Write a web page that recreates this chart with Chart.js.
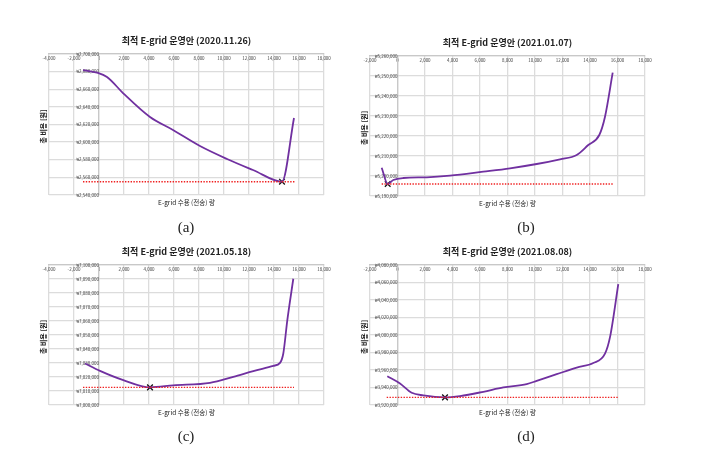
<!DOCTYPE html>
<html>
<head>
<meta charset="utf-8">
<script src="https://cdn.jsdelivr.net/npm/chart.js@4/dist/chart.umd.min.js"></script>
<style>
  body { margin: 0; background: #fff; width: 706px; height: 454px; position: relative; overflow: hidden; }
  canvas { position: absolute; }
  .cap { position: absolute; width: 40px; margin-left: -20px; text-align: center;
         font-family: "Liberation Serif", "DejaVu Serif", serif; font-size: 15px; color: #222; }
</style>
</head>
<body>
<canvas id="ca" width="353" height="227" style="left:0;top:0"></canvas>
<canvas id="cb" width="353" height="227" style="left:353px;top:0"></canvas>
<canvas id="cc" width="353" height="227" style="left:0;top:227px"></canvas>
<canvas id="cd" width="353" height="227" style="left:353px;top:227px"></canvas>
<div class="cap" style="left:186px;top:219px">(a)</div>
<div class="cap" style="left:526px;top:219px">(b)</div>
<div class="cap" style="left:186px;top:428px">(c)</div>
<div class="cap" style="left:526px;top:428px">(d)</div>
<script>
// 공통 라벨
const xTitle = "E-grid 수용 (전송) 량";
const yTitle = "총 비용 [원]";

// (a) 2020.11.26
const titleA = "최적 E-grid 운영안 (2020.11.26)";
const xA = [-1280, -160, 640, 1920, 4080, 5920, 8080, 10240, 12320, 14640, 15600];
const yA = [2681800, 2678800, 2673900, 2655700, 2628500, 2613800, 2595600, 2580900, 2568400, 2555100, 2627400];
const optA = [14640, 2555100];
const redA = [-1280, 15680];

// (b) 2021.01.07
const titleB = "최적 E-grid 운영안 (2021.01.07)";
const xB = [-1150, -713, -305, 422, 2124, 3818, 6240, 8182, 10124, 11818, 13033, 13876, 14676, 15091, 15651];
const yB = [5204150, 5196000, 5198000, 5199000, 5199350, 5200150, 5202150, 5203850, 5206000, 5208350, 5210500, 5215500, 5220500, 5229650, 5251650];
const optB = [-713, 5196000];
const redB = [-1150, 15651];

// (c) 2021.05.18
const titleC = "최적 E-grid 운영안 (2021.05.18)";
const xC = [-1120, 80, 1944, 4080, 5944, 8880, 10744, 12344, 13944, 14480, 14744, 15064, 15544];
const yC = [7029680, 7024410, 7017790, 7012600, 7014020, 7015870, 7020140, 7024200, 7027970, 7030110, 7036800, 7060500, 7090180];
const optC = [4080, 7012600];
const redC = [-1280, 15600];

// (d) 2021.08.08
const titleD = "최적 E-grid 운영안 (2021.08.08)";
const xD = [-742, 182, 1033, 1876, 3455, 4545, 6240, 7695, 9396, 10124, 11578, 13033, 14240, 15091, 15455, 16058];
const yD = [3952900, 3944600, 3933960, 3931000, 3928740, 3930210, 3935100, 3940090, 3943830, 3947570, 3955180, 3962780, 3968000, 3978670, 3997500, 4058100];
const optD = [3455, 3928740];
const redD = [-785, 16058];

const textPlugin = {
  id: 'texts',
  afterDraw(chart, args, opts) {
    const { ctx, chartArea: a } = chart;
    const cx = (a.left + a.right) / 2;
    ctx.save();
    ctx.fillStyle = '#222';
    ctx.textAlign = 'center';
    ctx.textBaseline = 'middle';
    ctx.font = 'bold 9px "Noto Sans CJK KR"';
    ctx.fillText(opts.title, cx, a.top - 13);
    ctx.font = '6.5px "Noto Sans CJK KR"';
    ctx.fillText(xTitle, cx, a.bottom + 8);
    ctx.translate(a.left - 6, (a.top + a.bottom) / 2 + 2);
    ctx.rotate(-Math.PI / 2);
    ctx.font = 'bold 7px "Noto Sans CJK KR"';
    ctx.fillText(yTitle, 0, 0);
    ctx.restore();
  }
};

function makeChart(id, title, xs, ys, opt, red, xr, yr, pad) {
  const tickFont = { family: '"Noto Sans CJK KR"', size: 4.5 };
  new Chart(id, {
    type: 'scatter',
    data: {
      datasets: [
        {
          data: red.map(v => ({ x: v, y: opt[1] })),
          showLine: true,
          borderColor: '#f02020',
          borderWidth: 1.4,
          borderDash: [1.4, 1.4],
          pointRadius: 0
        },
        {
          data: xs.map((v, i) => ({ x: v, y: ys[i] })),
          showLine: true,
          borderColor: '#7030a0',
          borderWidth: 1.8,
          cubicInterpolationMode: 'monotone',
          pointRadius: 0
        },
        {
          data: [{ x: opt[0], y: opt[1] }],
          pointStyle: 'crossRot',
          pointRadius: 4,
          borderColor: '#111',
          borderWidth: 1.3,
          backgroundColor: '#111'
        }
      ]
    },
    plugins: [textPlugin],
    options: {
      responsive: false,
      animation: false,
      layout: { padding: pad },
      plugins: {
        legend: { display: false },
        tooltip: { enabled: false },
        texts: { title: title }
      },
      scales: {
        x: {
          type: 'linear',
          min: xr[0], max: xr[1],
          position: { y: yr[1] },
          grid: { color: '#dcdcdc', lineWidth: 1.3, drawTicks: false },
          border: { color: '#c8c8c8', width: 1.3 },
          ticks: {
            stepSize: 2000, font: tickFont, color: '#444', padding: 2, maxRotation: 0,
            callback: v => v.toLocaleString('en-US')
          }
        },
        y: {
          type: 'linear',
          min: yr[0], max: yr[1],
          position: { x: 0 },
          grid: { color: '#dcdcdc', lineWidth: 1.3, drawTicks: false },
          border: { color: '#c8c8c8', width: 1.3 },
          ticks: {
            stepSize: yr[2], font: tickFont, color: '#444', padding: 3,
            callback: v => '₩' + v.toLocaleString('en-US')
          }
        }
      }
    }
  });
}

makeChart('ca', titleA, xA, yA, optA, redA, [-4000, 18000], [2540000, 2700000, 20000], { left: 49, right: 29, top: 54, bottom: 32 });
makeChart('cb', titleB, xB, yB, optB, redB, [-2000, 18000], [5190000, 5260000, 10000], { left: 17, right: 61, top: 56, bottom: 31 });
makeChart('cc', titleC, xC, yC, optC, redC, [-4000, 18000], [7000000, 7100000, 10000], { left: 49, right: 29, top: 38, bottom: 49 });
makeChart('cd', titleD, xD, yD, optD, redD, [-2000, 18000], [3920000, 4080000, 20000], { left: 17, right: 61, top: 38, bottom: 49 });
</script>
</body>
</html>
